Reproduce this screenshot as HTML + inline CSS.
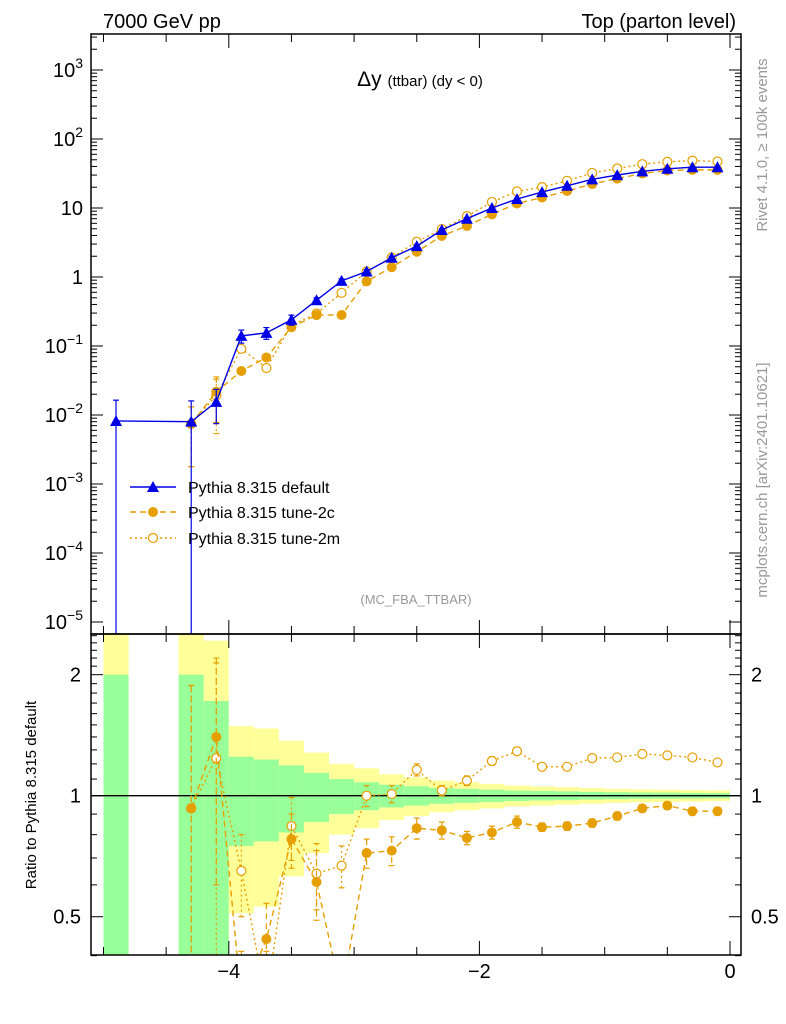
<!DOCTYPE html>
<html><head><meta charset="utf-8">
<style>
html,body{margin:0;padding:0;background:#fff;overflow:hidden;width:786px;height:1024px;}
svg{display:block;font-family:"Liberation Sans",sans-serif;}
</style></head>
<body>
<svg id="chart" width="786" height="1024" viewBox="0 0 786 1024" xmlns="http://www.w3.org/2000/svg">
<text x="103" y="28" font-size="20">7000 GeV pp</text>
<text x="736" y="28" font-size="20" text-anchor="end">Top (parton level)</text>
<text x="420" y="86" font-size="21" text-anchor="middle">Δy <tspan font-size="15">(ttbar) (dy &lt; 0)</tspan></text>
<text x="416" y="604" font-size="13" fill="#999" text-anchor="middle">(MC_FBA_TTBAR)</text>
<text transform="translate(767,145) rotate(-90)" font-size="15" fill="#999" text-anchor="middle">Rivet 4.1.0, ≥ 100k events</text>
<text transform="translate(767,480) rotate(-90)" font-size="15" fill="#999" text-anchor="middle">mcplots.cern.ch [arXiv:2401.10621]</text>
<text transform="translate(36,795) rotate(-90)" font-size="15" text-anchor="middle">Ratio to Pythia 8.315 default</text>
<g id="bands"></g><g id="marks"></g><g id="axes"></g>
<g>
 <g><line x1="130" y1="487" x2="176" y2="487" stroke="#0000e6" stroke-width="1.5"/><polygon points="153,481 147,492 159,492" fill="#0000e6"/><text x="188" y="493" font-size="16">Pythia 8.315 default</text></g>
 <g><line x1="130" y1="512" x2="176" y2="512" stroke="#e69f00" stroke-width="1.5" stroke-dasharray="6,4"/><circle cx="153" cy="512" r="5" fill="#e69f00"/><text x="188" y="518" font-size="16">Pythia 8.315 tune-2c</text></g>
 <g><line x1="130" y1="538" x2="176" y2="538" stroke="#e69f00" stroke-width="1.5" stroke-dasharray="2,3"/><circle cx="153" cy="538" r="4.5" fill="#fff" stroke="#e69f00" stroke-width="1.2"/><text x="188" y="544" font-size="16">Pythia 8.315 tune-2m</text></g>
</g>
</svg>
<script>
const xCenters=[-4.9,-4.3,-4.1,-3.9,-3.7,-3.5,-3.3,-3.1,-2.9,-2.7,-2.5,-2.3,-2.1,-1.9,-1.7,-1.5,-1.3,-1.1,-0.9,-0.7,-0.5,-0.3,-0.1];
const defaultVals=[0.0082,0.008,0.0155,0.14,0.155,0.24,0.46,0.88,1.2,1.9,2.8,4.8,7.0,10.0,13.5,17,21,26,30,34,37,39,39];
const defaultErr=[0.0082,0.008,0.008,0.03,0.03,0.04,0.04,0.06,0.08,0.1,0.12,0.2,0.25,0.3,0.3,0.4,0.4,0.5,0.5,0.5,0.5,0.5,0.5];
const xTune=[-4.3,-4.1,-3.9,-3.7,-3.5,-3.3,-3.1,-2.9,-2.7,-2.5,-2.3,-2.1,-1.9,-1.7,-1.5,-1.3,-1.1,-0.9,-0.7,-0.5,-0.3,-0.1];
const ratio2c=[0.93,1.40,0.31,0.44,0.78,0.61,0.32,0.72,0.73,0.83,0.82,0.785,0.81,0.86,0.835,0.84,0.855,0.89,0.93,0.945,0.915,0.915];
const ratio2m=[0.93,1.24,0.65,0.31,0.84,0.64,0.67,1.0,1.01,1.16,1.03,1.09,1.22,1.29,1.18,1.18,1.24,1.245,1.27,1.26,1.245,1.21];
const ratioErr2c=[0.95,0.8,0.1,0.1,0.12,0.12,0.06,0.06,0.06,0.05,0.04,0.03,0.03,0.03,0.02,0.02,0.02,0.02,0.02,0.02,0.02,0.02];
const ratioErr2m=[0.95,0.9,0.15,0.1,0.15,0.12,0.08,0.06,0.05,0.04,0.03,0.03,0.03,0.02,0.02,0.02,0.02,0.02,0.02,0.02,0.02,0.02];
const binLo=[-5.0,-4.4,-4.2,-4.0,-3.8,-3.6,-3.4,-3.2,-3.0,-2.8,-2.6,-2.4,-2.2,-2.0,-1.8,-1.6,-1.4,-1.2,-1.0,-0.8,-0.6,-0.4,-0.2];
const greenRel=[1.0,1.0,0.72,0.25,0.23,0.19,0.14,0.10,0.08,0.065,0.055,0.045,0.04,0.035,0.03,0.027,0.025,0.022,0.02,0.018,0.017,0.016,0.015];
const yellowRel=[2.0,2.0,1.43,0.49,0.47,0.37,0.28,0.20,0.17,0.13,0.11,0.09,0.08,0.07,0.06,0.055,0.05,0.045,0.04,0.037,0.035,0.033,0.03];
const mainTickLabels=["10^3","10^2","10","1","10^-1","10^-2","10^-3","10^-4","10^-5"];
const xTickLabels=["−4","−2","0"];

const NS="http://www.w3.org/2000/svg";
const L=91,R=741,T=34,MB=634,RB=955;
const X=v=>730+125.3*v;
const Y=v=>277-69*Math.log10(v);
const RY=v=>795.7-402*Math.log10(v);
function mk(tag,attrs,parent){const e=document.createElementNS(NS,tag);for(const k in attrs)e.setAttribute(k,attrs[k]);parent.appendChild(e);return e;}
const bands=document.getElementById('bands'),marks=document.getElementById('marks'),axes=document.getElementById('axes');
const defs=mk('defs',{},document.getElementById('chart'));
const c1=mk('clipPath',{id:'cm'},defs);mk('rect',{x:L,y:T,width:R-L,height:MB-T},c1);
const c2=mk('clipPath',{id:'cr'},defs);mk('rect',{x:L,y:MB,width:R-L,height:RB-MB},c2);
bands.setAttribute('clip-path','url(#cr)');
binLo.forEach((lo,i)=>{
 const x0=X(lo),x1=X(lo+0.2);
 const yu=RY(1+yellowRel[i]),yl=RY(Math.max(1-yellowRel[i],0.01));
 const r=mk('rect',{x:x0,y:yu,width:x1-x0,height:yl-yu,fill:'#ffff99'},bands);
 
 
 const gu=RY(1+greenRel[i]),gl=RY(Math.max(1-greenRel[i],0.01));
 const g=mk('rect',{x:x0,y:gu,width:x1-x0,height:gl-gu,fill:'#99ff99'},bands);
 
 
});
mk('line',{x1:L,y1:RY(1),x2:R,y2:RY(1),stroke:'#000','stroke-width':1.3},bands);
const gm=mk('g',{'clip-path':'url(#cm)'},marks);
const gr=mk('g',{'clip-path':'url(#cr)'},marks);
const BLUE='#0000e6',OR='#e69f00';
function series(parent,xs,ys,style,marker,name,errs){
 const pts=xs.map((x,i)=>X(x)+','+ys(i)).join(' ');
 const pl=mk('polyline',Object.assign({points:pts,fill:'none','stroke-width':1.4},style),parent);
 
 
 xs.forEach((x,i)=>{
  const cx=X(x),cy=ys(i);
  if(errs){const [a,b]=errs(i);mk('line',{x1:cx,y1:a,x2:cx,y2:b,stroke:style.stroke,'stroke-width':1.2,'stroke-dasharray':style['stroke-dasharray']||'none'},parent);
   mk('line',{x1:cx-3,y1:a,x2:cx+3,y2:a,stroke:style.stroke,'stroke-width':1.2},parent);
   mk('line',{x1:cx-3,y1:b,x2:cx+3,y2:b,stroke:style.stroke,'stroke-width':1.2},parent);}
  let m;
  if(marker==='tri')m=mk('polygon',{points:`${cx},${cy-6} ${cx-6},${cy+5} ${cx+6},${cy+5}`,fill:BLUE},parent);
  else if(marker==='dot')m=mk('circle',{cx:cx,cy:cy,r:5,fill:OR},parent);
  else m=mk('circle',{cx:cx,cy:cy,r:4.5,fill:'#fff',stroke:OR,'stroke-width':1.2},parent);
  
  
 });
}
const dTune=xTune.map(x=>defaultVals[xCenters.indexOf(x)]);
const v2c=dTune.map((v,i)=>v*ratio2c[i]);
const v2m=dTune.map((v,i)=>v*ratio2m[i]);
series(gm,xTune,i=>Y(v2m[i]),{stroke:OR,'stroke-dasharray':'2,3'},'open','tune-2m',i=>[Y(v2m[i]*(1+ratioErr2m[i]*0.8)),Y(Math.max(v2m[i]*(1-ratioErr2m[i]*0.8),1e-9))]);
series(gm,xTune,i=>Y(v2c[i]),{stroke:OR,'stroke-dasharray':'6,4'},'dot','tune-2c',i=>[Y(v2c[i]*(1+ratioErr2c[i]*0.8)),Y(Math.max(v2c[i]*(1-ratioErr2c[i]*0.8),1e-9))]);
series(gm,xCenters,i=>Y(defaultVals[i]),{stroke:BLUE},'tri','default',i=>[Y(defaultVals[i]+defaultErr[i]),Y(Math.max(defaultVals[i]-defaultErr[i],1e-9))]);
series(gr,xTune,i=>RY(ratio2m[i]),{stroke:OR,'stroke-dasharray':'2,3'},'open','ratio-tune-2m',i=>[RY(ratio2m[i]+ratioErr2m[i]),RY(Math.max(ratio2m[i]-ratioErr2m[i],0.01))]);
series(gr,xTune,i=>RY(ratio2c[i]),{stroke:OR,'stroke-dasharray':'6,4'},'dot','ratio-tune-2c',i=>[RY(ratio2c[i]+ratioErr2c[i]),RY(Math.max(ratio2c[i]-ratioErr2c[i],0.01))]);
mk('rect',{x:L,y:T,width:R-L,height:MB-T,fill:'none',stroke:'#000','stroke-width':1.5},axes);
mk('rect',{x:L,y:MB,width:R-L,height:RB-MB,fill:'none',stroke:'#000','stroke-width':1.5},axes);
for(let e=-5;e<=3;e++){
 const y=Y(Math.pow(10,e));
 mk('line',{x1:L,y1:y,x2:L+12,y2:y,stroke:'#000'},axes);mk('line',{x1:R,y1:y,x2:R-12,y2:y,stroke:'#000'},axes);
 for(let k=2;k<10;k++){const yy=Y(k*Math.pow(10,e));if(yy<T)continue;
  mk('line',{x1:L,y1:yy,x2:L+6,y2:yy,stroke:'#000'},axes);mk('line',{x1:R,y1:yy,x2:R-6,y2:yy,stroke:'#000'},axes);}
 const lab=mainTickLabels[3-e];
 const t=mk('text',{x:L-8,y:y+7,'font-size':20,'text-anchor':'end'},axes);
 
 
 if(lab.includes('^')){const [b,p]=lab.split('^');t.textContent=b;const s=mk('tspan',{dy:-9,'font-size':14},t);s.textContent=p.replace('-','−');}
 else t.textContent=lab;
}
[0.4,0.5,0.6,0.7,0.8,0.9,1,1.5,2,2.5].forEach(v=>{
 const y=RY(v);const maj=(v===0.5||v===1||v===2);const len=maj?12:6;
 mk('line',{x1:L,y1:y,x2:L+len,y2:y,stroke:'#000'},axes);mk('line',{x1:R,y1:y,x2:R-len,y2:y,stroke:'#000'},axes);
 if(maj){const t=mk('text',{x:L-10,y:y+7,'font-size':20,'text-anchor':'end'},axes);t.textContent=String(v);
  
  
  const t2=mk('text',{x:R+10,y:y+7,'font-size':20},axes);t2.textContent=String(v);}
});
for(let k=11;k<25;k++){if(k===15||k===20)continue;const y=RY(k/10);mk('line',{x1:L,y1:y,x2:L+6,y2:y,stroke:'#000'},axes);mk('line',{x1:R,y1:y,x2:R-6,y2:y,stroke:'#000'},axes);}
for(let v=-5;v<=0.01;v+=0.5){
 const x=X(v);const maj=Math.abs(v%2)<0.01;const len=maj?14:8;
 [[T,1],[MB,1],[MB,-1],[RB,-1]].forEach(([y0,d])=>mk('line',{x1:x,y1:y0,x2:x,y2:y0+d*len,stroke:'#000'},axes));
}
xTickLabels.forEach((s,i)=>{const t=mk('text',{x:X(-4+2*i),y:978,'font-size':20,'text-anchor':'middle'},axes);t.textContent=s;
 
 });
</script>
</body></html>
